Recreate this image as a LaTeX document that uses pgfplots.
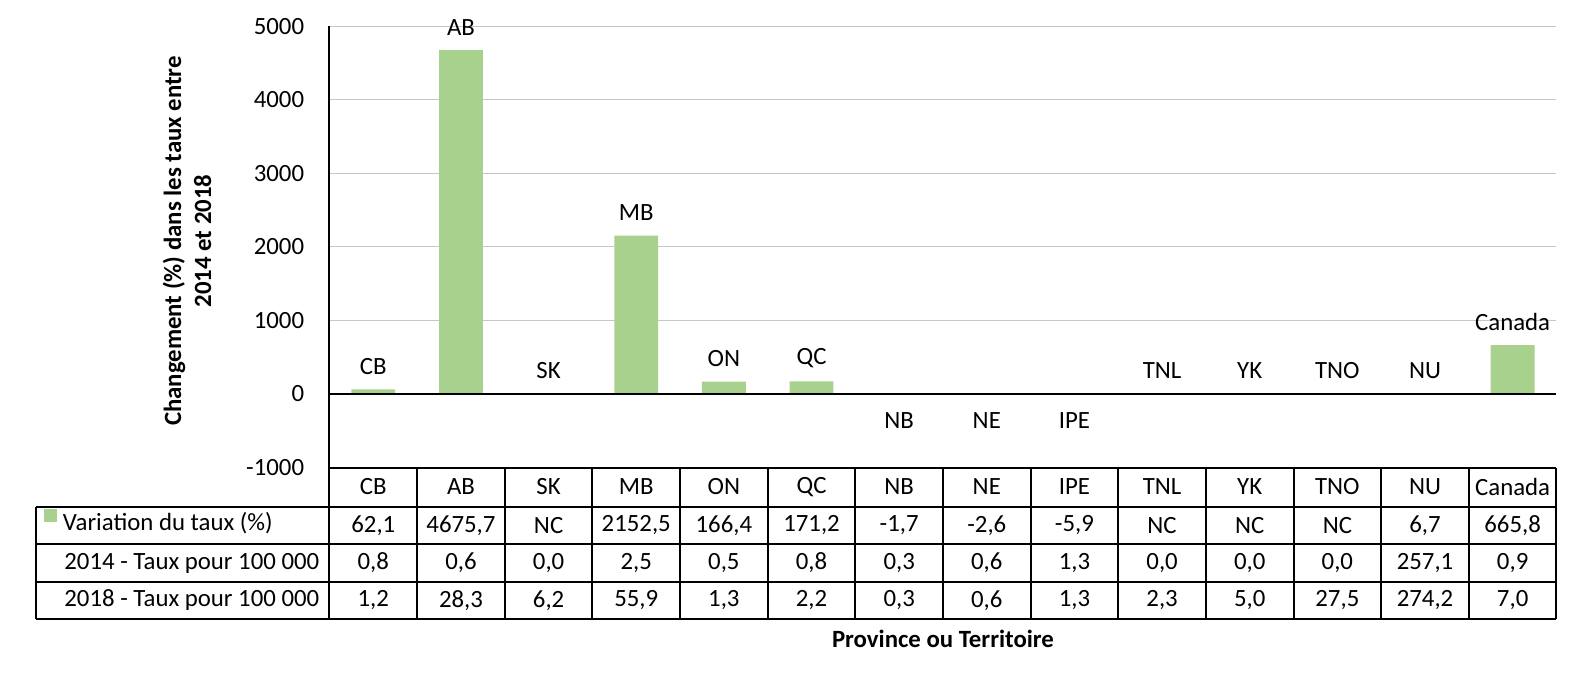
\documentclass[border=0pt]{standalone}
\usepackage{fontspec}
\setmainfont{Carlito}
\usepackage{pgfplots}
\usepackage{pgfplotstable}
\pgfplotsset{compat=1.18}
\definecolor{barg}{RGB}{169,209,142}

% bars with value >= 0 (NC plotted as 0)
\pgfplotstableread{
x name val
0 CB 62.1
1 AB 4675.7
2 SK 0
3 MB 2152.5
4 ON 166.4
5 QC 171.2
9 TNL 0
10 YK 0
11 TNO 0
12 NU 6.7
13 Canada 665.8
}\pos
% bars with negative value
\pgfplotstableread{
x name val
6 NB -1.7
7 NE -2.6
8 IPE -5.9
}\negs
% data table below the chart
\pgfplotstableread{
x name var r14 r18
0 CB 62,1 0,8 1,2
1 AB 4675,7 0,6 28,3
2 SK NC 0,0 6,2
3 MB 2152,5 2,5 55,9
4 ON 166,4 0,5 1,3
5 QC 171,2 0,8 2,2
6 NB -1,7 0,3 0,3
7 NE -2,6 0,6 0,6
8 IPE -5,9 1,3 1,3
9 TNL NC 0,0 2,3
10 YK NC 0,0 5,0
11 TNO NC 0,0 27,5
12 NU 6,7 257,1 274,2
13 Canada 665,8 0,9 7,0
}\tab

\begin{document}
\begin{tikzpicture}[font=\fontsize{12.4}{15}\selectfont]
\begin{axis}[
  scale only axis,
  width=613.5pt, height=220.65pt,
  xmin=-0.5, xmax=13.5, ymin=-1000, ymax=5000,
  enlargelimits=false,
  clip=false,
  axis lines=left,
  axis line style={draw=none},
  major tick length=0pt,
  tick style={draw=none},
  ytick={-1000,0,1000,2000,3000,4000,5000},
  yticklabels={-1000,0,1000,2000,3000,4000,5000},
  yticklabel style={anchor=east, inner sep=0pt, xshift=-12.5pt},
  xtick={0,...,13},
  xticklabels from table={\tab}{name},
  xticklabel style={anchor=center, yshift=-9.75pt},
  ymajorgrids,
  grid style={black!22, line width=0.6pt},
  ylabel={Changement (\%) dans les taux entre\\2014 et 2018},
  ylabel style={at={(axis cs:-2.126,2080)}, anchor=center, align=center, font=\fontsize{12.4}{15}\selectfont\bfseries},
  xlabel={Province ou Territoire},
  xlabel style={at={(axis cs:6.5,-3331)}, anchor=center, font=\fontsize{12.4}{15}\selectfont\bfseries},
  legend style={at={(axis cs:-3.758,-1725)}, anchor=west, draw=none, fill=none,
    inner sep=0pt, outer sep=0pt, nodes={inner sep=0pt, text=black},
    /tikz/every odd column/.append style={column sep=3pt}},
  legend image code/.code={\fill[#1] (0pt,0.5pt) rectangle (6.5pt,7pt);},
]
% bars
\addplot[ybar, bar width=0.5, bar shift=0pt, fill=barg, draw=none,
  nodes near coords, point meta=explicit symbolic,
  every node near coord/.append style={anchor=center, yshift=11.5pt, text=black}]
  table[x=x, y=val, meta=name] {\pos};
\addlegendentry{Variation du taux (\%)}
\addplot[ybar, bar width=0.5, bar shift=0pt, fill=barg, draw=none, forget plot,
  nodes near coords, point meta=explicit symbolic,
  every node near coord/.append style={anchor=center, yshift=-13pt, text=black}]
  table[x=x, y=val, meta=name] {\negs};

% table rows
\addplot[draw=none, mark=none, forget plot, nodes near coords, point meta=explicit symbolic,
  every node near coord/.append style={anchor=center, text=black}]
  table[x=x, y expr=-1787.9, meta=var] {\tab};
\addplot[draw=none, mark=none, forget plot, nodes near coords, point meta=explicit symbolic,
  every node near coord/.append style={anchor=center, text=black}]
  table[x=x, y expr=-2297.8, meta=r14] {\tab};
\addplot[draw=none, mark=none, forget plot, nodes near coords, point meta=explicit symbolic,
  every node near coord/.append style={anchor=center, text=black}]
  table[x=x, y expr=-2807.6, meta=r18] {\tab};

\node[anchor=west, inner sep=0pt] at (axis cs:-3.5295,-2297.8) {2014 - Taux pour 100 000};
\node[anchor=west, inner sep=0pt] at (axis cs:-3.5295,-2807.6) {2018 - Taux pour 100 000};

% axis lines and table frame
\draw[black, line width=1pt] (axis cs:-0.5,0) -- (axis cs:13.5,0);
\draw[black, line width=1pt] (axis cs:-0.5,-1000) -- (axis cs:13.5,-1000);
\draw[black, line width=1pt] (axis cs:-0.5,5000) -- (axis cs:-0.5,-3059.1);
\draw[black, line width=1pt] (axis cs:-3.849,-1536.4) -- (axis cs:13.5,-1536.4);
\draw[black, line width=1pt] (axis cs:-3.849,-2039.4) -- (axis cs:13.5,-2039.4);
\draw[black, line width=1pt] (axis cs:-3.849,-2556.1) -- (axis cs:13.5,-2556.1);
\draw[black, line width=1pt] (axis cs:-3.849,-3059.1) -- (axis cs:13.5,-3059.1);
\draw[black, line width=1pt] (axis cs:-3.849,-1536.4) -- (axis cs:-3.849,-3059.1);
\pgfplotsinvokeforeach{0.5,1.5,2.5,3.5,4.5,5.5,6.5,7.5,8.5,9.5,10.5,11.5,12.5,13.5}{
  \draw[black, line width=1pt] (axis cs:#1,-1000) -- (axis cs:#1,-3059.1);
}

\coordinate (bbsw) at (axis cs:-4.2597,-3875);
\coordinate (bbne) at (axis cs:13.780,5356.9);
\end{axis}
\pgfresetboundingbox
\path[use as bounding box] (bbsw) rectangle (bbne);
\end{tikzpicture}
\end{document}
